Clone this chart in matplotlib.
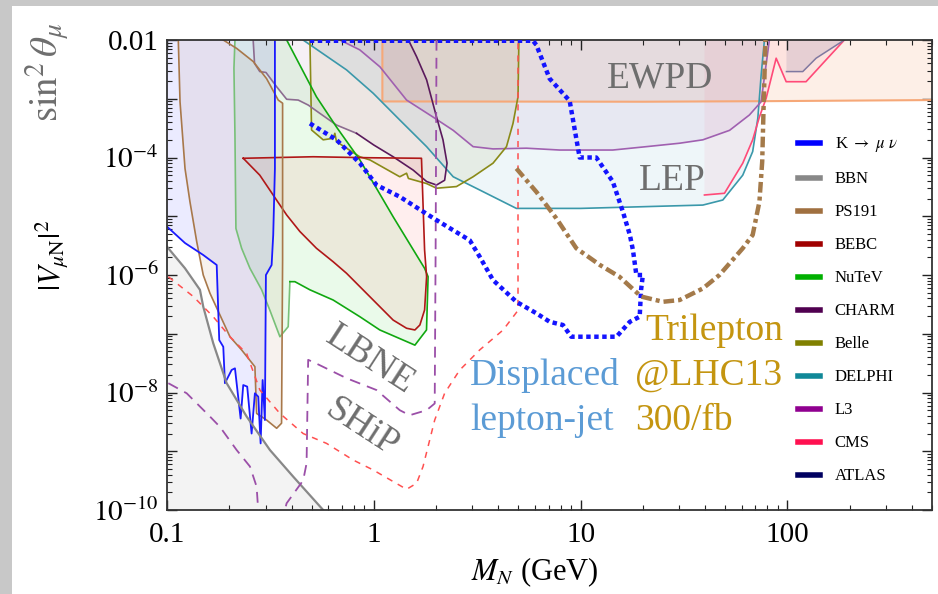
import numpy as np
import matplotlib
matplotlib.use('Agg')
import matplotlib.pyplot as plt
from matplotlib.patches import Rectangle
from matplotlib.lines import Line2D
from matplotlib.ticker import LogLocator, FuncFormatter, NullFormatter

# ---------------- data (M_N in GeV, |V_muN|^2) ----------------
K_M = [0.1003, 0.1222, 0.1497, 0.1739, 0.1789, 0.1871, 0.1906, 0.2054, 0.2131, 0.2171, 0.2270, 0.2337,
       0.2442, 0.2565, 0.2661, 0.2761, 0.2836, 0.2900, 0.2974, 0.3008, 0.3205, 0.3263, 0.3325, 0.3325]
K_V = [6.6e-6, 3.5e-6, 2.19e-6, 1.48e-6, 7.8e-8, 6.0e-8, 1.44e-8, 2.42e-8, 2.58e-8, 1.44e-8, 3.6e-9, 1.34e-8,
       1.26e-8, 2.0e-9, 9.7e-9, 8.5e-9, 1.36e-9, 1.63e-8, 3.4e-9, 1.0e-6, 1.48e-6, 4.8e-6, 6.5e-5, 1e-2]

BBN_M = [0.1, 0.1222, 0.1443, 0.1497, 0.1673, 0.1943, 0.2427, 0.3145, 0.4075, 0.569]
BBN_V = [3.03e-6, 1.30e-6, 5.6e-7, 2.9e-7, 6.9e-8, 1.44e-8, 3.9e-9, 1.05e-9, 3.7e-10, 1e-10]

PS191_M = [0.1134, 0.1156, 0.1222, 0.1291, 0.1392, 0.1497, 0.1613, 0.2015, 0.2295, 0.2661, 0.2712, 0.303,
           0.339, 0.358, 0.3622, 0.3622, 0.345, 0.303, 0.2612, 0.2171, 0.1871]
PS191_V = [1e-2, 8.9e-4, 6.5e-5, 1.77e-5, 3.7e-6, 1e-6, 4.9e-7, 8.9e-8, 5.3e-8, 2.75e-8, 4.4e-9, 3.4e-9,
           2.46e-9, 3.0e-9, 1.8e-6, 8.4e-4, 9.5e-4, 2.2e-3, 4.3e-3, 7.2e-3, 1e-2]

BEBC_M = [0.2337, 0.509, 0.957, 1.70, 1.76, 1.80, 1.76, 1.67, 1.58, 1.44, 1.24, 0.993, 0.738, 0.636,
          0.528, 0.439, 0.379, 0.326, 0.281, 0.2337]
BEBC_V = [9.7e-5, 1.03e-4, 9.9e-5, 9.7e-5, 2.67e-6, 9.35e-7, 2.54e-7, 1.41e-7, 1.16e-7, 1.24e-7, 1.71e-7,
          3.75e-7, 1.07e-6, 1.68e-6, 2.85e-6, 5.5e-6, 1.05e-5, 2.3e-5, 5.0e-5, 9.7e-5]

NUTEV_M = [0.2131, 0.2107, 0.2131, 0.2154, 0.2295, 0.2518, 0.2868, 0.3145, 0.3515, 0.3855, 0.3929, 0.4153,
           0.4907, 0.636, 0.856, 1.069, 1.58, 1.798, 1.83, 1.76, 1.24, 0.856, 0.66, 0.528, 0.379]
NUTEV_V = [1e-2, 3.3e-3, 2.4e-4, 6.2e-6, 2.85e-6, 1.3e-6, 5.6e-7, 2.5e-7, 8.9e-8, 1.32e-7, 7.7e-7, 7.7e-7,
           5.6e-7, 3.75e-7, 1.95e-7, 1.16e-7, 6.4e-8, 1.16e-7, 9.35e-7, 1.3e-6, 9.8e-6, 9.1e-5, 3.3e-4,
           1.08e-3, 1e-2]

CHARM_M = [0.261, 0.265, 0.281, 0.301, 0.339, 0.379, 0.431, 0.482, 0.548, 0.660, 0.825, 1.0, 1.24, 1.55,
           1.80, 2.01, 2.20, 2.26, 2.16, 2.01, 1.80, 1.61, 1.47]
CHARM_V = [1e-2, 4.0e-3, 2.9e-3, 2.8e-3, 1.6e-3, 9.8e-4, 9.5e-4, 7.8e-4, 5.65e-4, 3.57e-4, 2.58e-4, 1.63e-4,
           1.03e-4, 6.1e-5, 3.9e-5, 3.4e-5, 4.1e-5, 8.0e-5, 2.0e-4, 4.9e-4, 2.1e-3, 5.2e-3, 1e-2]

BELLE_M = [0.491, 0.500, 0.569, 0.636, 0.648, 0.660, 0.855, 0.957, 1.335, 1.44, 1.47, 1.80, 2.01, 2.51,
           3.02, 3.77, 4.38, 4.71, 4.98, 5.03]
BELLE_V = [1e-2, 2.94e-4, 2.0e-4, 2.12e-4, 2.58e-4, 1.86e-4, 1.03e-4, 9.1e-5, 4.7e-5, 5.4e-5, 4.4e-5,
           3.6e-5, 3.0e-5, 3.2e-5, 4.7e-5, 8.0e-5, 1.53e-4, 3.8e-4, 1.08e-3, 1e-2]

DELPHI_M = [0.455, 0.738, 0.993, 1.335, 1.80, 2.42, 3.25, 4.89, 10.0, 39.0, 48.7, 60.8, 67.9, 71.9, 74.6, 77.4]
DELPHI_V = [1e-2, 3.1e-3, 1.24e-3, 4.35e-4, 1.53e-4, 4.7e-5, 2.8e-5, 1.36e-5, 1.36e-5, 1.55e-5, 1.89e-5,
            5.0e-5, 1.26e-4, 4.65e-4, 2.5e-3, 1e-2]

L3_M = [0.685, 0.855, 1.07, 1.44, 1.93, 2.42, 3.02, 3.77, 5.47, 7.92, 10.0, 14.3, 20.8, 30.1, 39.0, 52.5,
        65.5, 74.6, 81.8]
L3_V = [1e-2, 6.8e-3, 3.5e-3, 9.5e-4, 4.9e-4, 2.9e-4, 1.53e-4, 1.4e-4, 1.44e-4, 1.34e-4, 1.34e-4, 1.34e-4,
        1.53e-4, 1.75e-4, 2.0e-4, 2.9e-4, 5.3e-4, 8.9e-4, 1e-2]

CMS_M = [39.7, 49.6, 60.8, 67.9, 73.2, 78.9, 88.2, 98.6, 123.0, 153.8, 188.5]
CMS_V = [2.3e-5, 2.46e-5, 8.0e-5, 2.0e-4, 4.9e-4, 1.02e-3, 4.9e-3, 1.95e-3, 1.95e-3, 4.6e-3, 1e-2]

ATLAS_M = [98.9, 118.6, 137.6, 188.5]
ATLAS_V = [2.9e-3, 2.9e-3, 4.9e-3, 1e-2]

EWPD_M = [1.1, 1.1, 20.0, 80.0, 500.0]
EWPD_V = [1e-2, 9.0e-4, 8.9e-4, 9.1e-4, 9.5e-4]

LBNE_M = [0.1015, 0.1245, 0.1613, 0.1803, 0.2171, 0.2518, 0.2712, 0.276, 0.32, 0.3715, 0.3787, 0.4555,
          0.473, 0.4815, 0.5285, 0.738, 1.031, 1.335, 1.49, 1.80, 1.97, 1.99, 2.01]
LBNE_V = [1.44e-8, 9.7e-9, 3.9e-9, 2.6e-9, 1.05e-9, 5.5e-10, 2.5e-10, 1e-10, 2e-11, 1e-10, 1.3e-10, 3.2e-10,
          6.2e-10, 3.6e-8, 3.1e-8, 1.75e-8, 1.1e-8, 5.0e-9, 4.1e-9, 5.0e-9, 6.5e-9, 2.67e-6, 1e-2]

SHIP_M = [0.1015, 0.134, 0.1673, 0.2015, 0.2427, 0.2813, 0.3515, 0.4555, 0.591, 0.794, 0.993, 1.44, 1.61,
          1.73, 1.97, 2.20, 2.60, 3.25, 4.22, 4.98, 4.98]
SHIP_V = [9.35e-7, 4.3e-7, 1.95e-7, 8.9e-8, 4.6e-8, 1.1e-8, 4.4e-9, 2.0e-9, 1.36e-9, 7.1e-10, 4.8e-10,
          2.25e-10, 2.85e-10, 5.5e-10, 3.4e-9, 9.7e-9, 2.4e-8, 5.3e-8, 1.16e-7, 2.5e-7, 1e-2]

DISP_M = [0.491, 0.660, 0.856, 1.031, 1.335, 1.73, 2.01, 2.91, 3.25, 3.77, 4.89, 6.11, 7.08, 8.21, 9.01,
          14.9, 17.3, 19.3, 19.6, 20.0, 18.6, 17.9, 17.3, 16.0, 14.3, 11.9, 9.89, 8.85, 7.08, 6.11, 5.89, 0.491]
DISP_V = [3.8e-4, 2.0e-4, 8.0e-5, 3.4e-5, 2.15e-5, 1.2e-5, 8.6e-6, 3.9e-6, 2.05e-6, 8.2e-7, 3.5e-7, 2.23e-7,
          1.6e-7, 1.41e-7, 8.9e-8, 8.9e-8, 1.6e-7, 1.95e-7, 5.6e-7, 1e-6, 1e-6, 2.67e-6, 4.8e-6, 1.2e-5,
          3.9e-5, 1e-4, 1e-4, 9.2e-4, 2.2e-3, 8.2e-3, 9.7e-3, 9.7e-3]

TRI_M = [4.89, 6.11, 7.63, 9.53, 12.4, 15.4, 19.6, 25.0, 30.1, 39.0, 46.9, 60.8, 67.9, 73.2, 75.5, 76.8, 78.3]
TRI_V = [6.5e-5, 2.6e-5, 9.2e-6, 2.85e-6, 1.48e-6, 9.35e-7, 4.3e-7, 3.5e-7, 3.75e-7, 5.9e-7, 1e-6, 2.85e-6,
         4.8e-6, 1.77e-5, 8.5e-5, 8.9e-4, 1e-2]

LEGEND_LABELS = [r'K $\rightarrow\ \mu\ \nu$', 'BBN', 'PS191', 'BEBC', 'NuTeV', 'CHARM', 'Belle',
                 'DELPHI', 'L3', 'CMS', 'ATLAS']
LEGEND_COLORS = ['#0000ff', '#888888', '#a07040', '#a00000', '#00b000', '#500050', '#808000',
                 '#108898', '#900090', '#ff1050', '#000060']

X_TICKS = [0.1, 1, 10, 100]
X_TICKLABELS = ['0.1', '1', '10', '100']

# ---------------- figure ----------------
plt.rcParams['font.family'] = ['Liberation Serif', 'DejaVu Serif']
plt.rcParams['mathtext.fontset'] = 'stix'

W, H = 938, 594
fig = plt.figure(figsize=(W / 100, H / 100), dpi=100)
fig.patch.set_facecolor('#c8c8c8')
fig.add_artist(Rectangle((12 / W, 0), 1 - 12 / W, 1 - 6 / H, transform=fig.transFigure,
                         facecolor='white', edgecolor='none', zorder=-10))

ax = fig.add_axes([167 / W, 1 - 510 / H, 765 / W, 470 / H])
ax.set_xscale('log')
ax.set_yscale('log')
ax.set_xlim(0.1, 500)
ax.set_ylim(1e-10, 1e-2)

TOP = 1e-2


def fill_region(M, V, extra, color, alpha):
    pts_x = list(M) + [p[0] for p in extra]
    pts_y = list(V) + [p[1] for p in extra]
    ax.fill(pts_x, pts_y, color=color, alpha=alpha, lw=0, zorder=1)


# fills
fill_region(EWPD_M, EWPD_V, [(500, TOP)], '#f49a60', 0.15)
fill_region(DELPHI_M, DELPHI_V, [], '#2a98b8', 0.08)
fill_region(L3_M, L3_V, [], '#9030a0', 0.07)
fill_region(CMS_M, CMS_V, [(CMS_M[0], TOP)], '#ff3060', 0.06)
fill_region(ATLAS_M, ATLAS_V, [(ATLAS_M[0], TOP)], '#202070', 0.10)
fill_region(BELLE_M, BELLE_V, [], '#808000', 0.08)
fill_region(CHARM_M, CHARM_V, [], '#700070', 0.06)
fill_region(NUTEV_M, NUTEV_V, [], '#20d020', 0.09)
fill_region(BEBC_M, BEBC_V, [], '#ff3030', 0.08)
fill_region(PS191_M, PS191_V, [], '#a06030', 0.08)
fill_region(K_M, K_V, [(0.1, TOP), (0.1, K_V[0])], '#4040ff', 0.10)
fill_region(BBN_M, BBN_V, [(0.1, 1e-10)], '#808080', 0.09)

# boundary lines
lw = 1.2
ax.plot(EWPD_M, EWPD_V, color='#f6a878', lw=1.5, zorder=2)
ax.plot(DELPHI_M, DELPHI_V, color='#3a98aa', lw=lw, zorder=2)
ax.plot(L3_M, L3_V, color='#a060b0', lw=lw, zorder=2)
ax.plot(CMS_M, CMS_V, color='#ff4a78', lw=lw, zorder=2)
ax.plot(ATLAS_M, ATLAS_V, color='#8078a0', lw=1.1, zorder=2)
ax.plot(BELLE_M, BELLE_V, color='#8a8a18', lw=lw, zorder=2)
ax.plot(CHARM_M[:11], CHARM_V[:11], color='#8c6c90', lw=lw, zorder=2)
ax.plot(CHARM_M[10:], CHARM_V[10:], color='#5a1a5c', lw=lw, zorder=2)
ax.plot(NUTEV_M[:11], NUTEV_V[:11], color='#78c078', lw=lw, zorder=2)
ax.plot(NUTEV_M[10:], NUTEV_V[10:], color='#10a810', lw=lw, zorder=2)
ax.plot(BEBC_M, BEBC_V, color='#b01818', lw=lw, zorder=2)
ax.plot(PS191_M, PS191_V, color='#a8784a', lw=lw, zorder=2)
ax.plot(K_M, K_V, color='#1a1aff', lw=1.3, zorder=2)
ax.plot(BBN_M, BBN_V, color='#888888', lw=1.6, zorder=2)

# projections
ax.plot(LBNE_M, LBNE_V, color='#9b4fa8', lw=1.3, dashes=(6, 4), zorder=3)
ax.plot(SHIP_M, SHIP_V, color='#ff5050', lw=1.1, dashes=(4, 4), zorder=3)
ax.plot(DISP_M, DISP_V, color='#1414ff', lw=3.2, dashes=(1.0, 0.8), zorder=4)
ax.plot(TRI_M, TRI_V, color='#a47a4a', lw=3.2, dashes=(2.4, 0.9, 0.9, 0.9), zorder=4)

# annotations
gray = '#6e6e6e'
big = 27


def axpos(px, py):
    return ((px - 167) / 765, (510 - py) / 470)


ax.text(*axpos(660, 88), 'EWPD', color=gray, fontsize=big, ha='center', va='baseline',
        transform=ax.transAxes, zorder=6)
ax.text(*axpos(672, 190), 'LEP', color=gray, fontsize=big, ha='center', va='baseline',
        transform=ax.transAxes, zorder=6)
ax.text(*axpos(370, 360), 'LBNE', color=gray, fontsize=big, ha='center', va='center',
        rotation=-33, rotation_mode='anchor', transform=ax.transAxes, zorder=6)
ax.text(*axpos(362, 428), 'SHiP', color=gray, fontsize=big, ha='center', va='center',
        rotation=-33, rotation_mode='anchor', transform=ax.transAxes, zorder=6)
blue_t = '#5b9bd5'
ax.text(*axpos(470, 385), 'Displaced', color=blue_t, fontsize=big, ha='left', va='baseline',
        transform=ax.transAxes, zorder=6)
ax.text(*axpos(470, 430), 'lepton-jet', color=blue_t, fontsize=big, ha='left', va='baseline',
        transform=ax.transAxes, zorder=6)
gold = '#c49510'
ax.text(*axpos(645, 340), 'Trilepton', color=gold, fontsize=big, ha='left', va='baseline',
        transform=ax.transAxes, zorder=6)
ax.text(*axpos(635, 385), '@LHC13', color=gold, fontsize=big, ha='left', va='baseline',
        transform=ax.transAxes, zorder=6)
ax.text(*axpos(635, 430), '300/fb', color=gold, fontsize=big, ha='left', va='baseline',
        transform=ax.transAxes, zorder=6)

# legend
handles = [Line2D([], [], color=c, lw=4) for c in LEGEND_COLORS]
leg = ax.legend(handles, LEGEND_LABELS, loc='upper left', bbox_to_anchor=(0.825, 0.797),
                frameon=False, fontsize=12, handlelength=1.3, handletextpad=0.9,
                labelspacing=1.02, borderaxespad=0, borderpad=0)
leg.set_zorder(7)

# ticks
ax.xaxis.set_major_locator(LogLocator(base=10, subs=(1.0,), numticks=20))
ax.xaxis.set_minor_locator(LogLocator(base=10, subs=np.arange(2, 10), numticks=20))
ax.yaxis.set_major_locator(LogLocator(base=10, subs=(1.0,), numticks=20))
ax.yaxis.set_minor_locator(LogLocator(base=10, subs=np.arange(2, 10), numticks=20))


def xfmt(v, pos):
    for t, lab in zip(X_TICKS, X_TICKLABELS):
        if abs(v - t) / t < 1e-6:
            return lab
    return ''


def yfmt(v, pos):
    e = int(round(np.log10(v)))
    if e == -2:
        return '0.01'
    if e % 2 == 0:
        return r'$10^{%d}$' % e
    return ''


ax.xaxis.set_major_formatter(FuncFormatter(xfmt))
ax.yaxis.set_major_formatter(FuncFormatter(yfmt))
ax.xaxis.set_minor_formatter(NullFormatter())
ax.yaxis.set_minor_formatter(NullFormatter())
ax.tick_params(which='both', direction='in', top=True, right=True, colors='#222222', labelcolor='black')
ax.tick_params(which='major', length=7, width=1, labelsize=21)
ax.tick_params(axis='y', which='major', pad=6)
ax.tick_params(axis='x', which='major', pad=9)
ax.tick_params(which='minor', length=3.5, width=0.8)
for s in ax.spines.values():
    s.set_color('#333333')
    s.set_linewidth(1.3)

# axis labels
fig.text(535 / W, 1 - 572 / H, r'$M_N$ (GeV)', fontsize=22, ha='center', va='center')
fig.text(48 / W, 1 - 72 / H, r'$\sin^2\theta_\mu$', fontsize=28, color=gray, ha='center', va='center',
         rotation=90)
fig.text(52 / W, 1 - 255 / H, r'$|V_{\mu\mathrm{N}}|^2$', fontsize=22, ha='center', va='center', rotation=90)

fig.savefig('out.png', dpi=100, facecolor=fig.get_facecolor())
